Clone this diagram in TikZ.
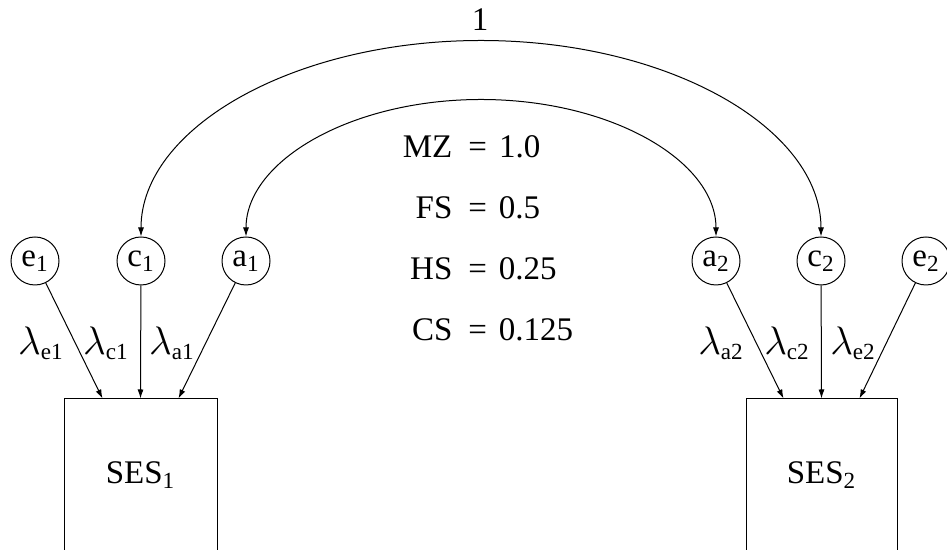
\documentclass[tikz,border=0pt]{standalone}
\usepackage{fontspec}
\setmainfont{Liberation Serif}
\usetikzlibrary{arrows.meta}

\newcommand{\lam}[1]{\scalebox{1.15}{$\lambda$}\textsubscript{#1}}

\tikzset{
  every node/.style={font=\fontsize{16.5}{19}\selectfont},
  latent/.style={draw,circle,minimum size=24pt,inner sep=0pt,line width=0.5pt},
  observed/.style={draw,rectangle,minimum width=76.5pt,minimum height=76pt,inner sep=0pt,line width=0.5pt},
  path/.style={line width=0.5pt,-{Latex[length=4.5pt,width=3pt]}},
  covpath/.style={line width=0.5pt,{Latex[length=4.5pt,width=3pt]}-{Latex[length=4.5pt,width=3pt]}}
}

\begin{document}
\begin{tikzpicture}[x=0.5pt,y=0.5pt]
\useasboundingbox (0,0) rectangle (947,550);
% twin 1
\node[latent] (e1) at (35,289) {e\textsubscript{1}};
\node[latent] (c1) at (141,289) {c\textsubscript{1}};
\node[latent] (a1) at (246,289) {a\textsubscript{1}};
\node[observed] (ses1) at (140.5,75) {SES\textsubscript{1}};
% twin 2
\node[latent] (a2) at (716,289) {a\textsubscript{2}};
\node[latent] (c2) at (821,289) {c\textsubscript{2}};
\node[latent] (e2) at (926,289) {e\textsubscript{2}};
\node[observed,minimum width=75.5pt] (ses2) at (821.5,75) {SES\textsubscript{2}};
% loadings
\draw[path] (e1) -- ([xshift=-19pt]ses1.north);
\draw[path] (c1) -- (ses1.north);
\draw[path] (a1) -- ([xshift=19pt]ses1.north);
\draw[path] (a2) -- ([xshift=-19pt]ses2.north);
\draw[path] (c2) -- (ses2.north);
\draw[path] (e2) -- ([xshift=19pt]ses2.north);
\node (le1) at (41,207) {\lam{e1}};
\node (lc1) at (106,207) {\lam{c1}};
\node (la1) at (172,207) {\lam{a1}};
\node (la2) at (721,207) {\lam{a2}};
\node (lc2) at (787,207) {\lam{c2}};
\node (le2) at (853,207) {\lam{e2}};
% correlations
\draw[covpath] (c1.north) arc[start angle=180,end angle=0,x radius=170pt,y radius=98pt];
\draw[covpath] (a1.north) arc[start angle=180,end angle=0,x radius=117.5pt,y radius=68.5pt];
\node (one) at (480,530) {1};
\foreach \grp/\val [count=\i] in {MZ/1.0,FS/0.5,HS/0.25,CS/0.125}
  \node[anchor=base west,inner sep=0pt] (r\i) at (400,{392-60.7*(\i-1)})
    {\makebox[26pt][r]{\grp}\hspace{8pt}=\hspace{6pt}\val};
\end{tikzpicture}
\end{document}
